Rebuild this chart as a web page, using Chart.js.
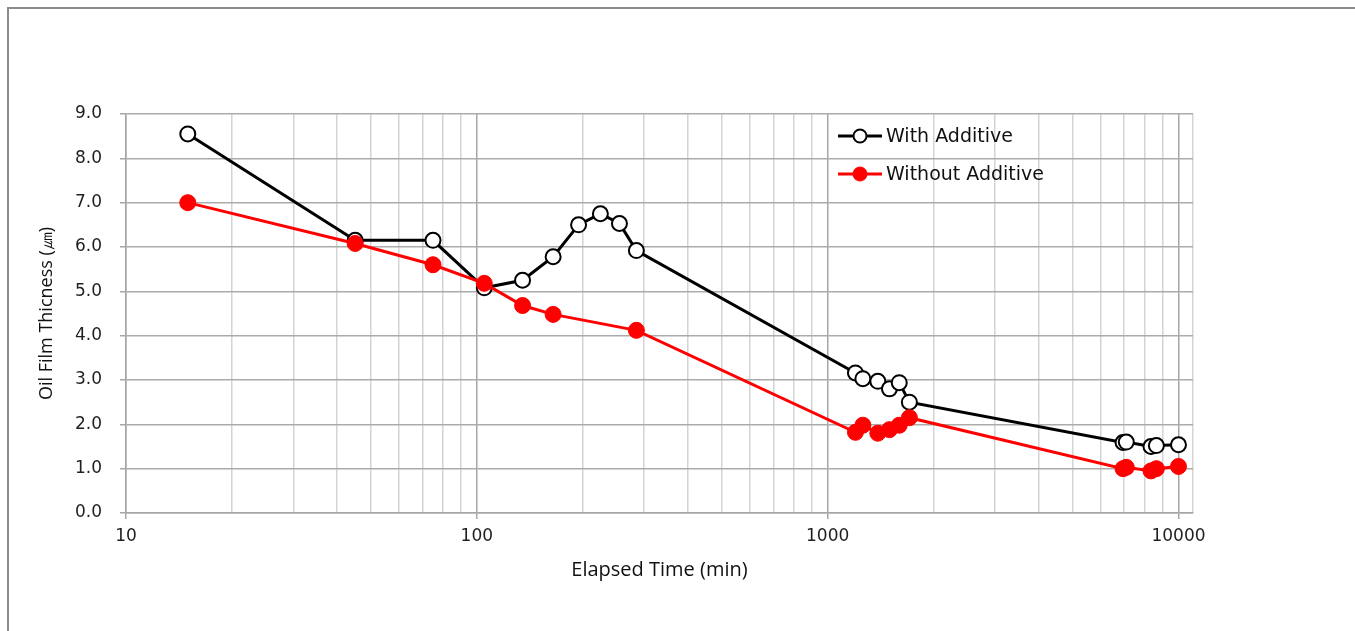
<!DOCTYPE html>
<html>
<head>
<meta charset="utf-8">
<script src="https://cdn.jsdelivr.net/npm/chart.js@4.4.1/dist/chart.umd.min.js"></script>
<style>
  html, body { margin: 0; padding: 0; background: #ffffff; }
  #wrap { width: 1355px; height: 631px; position: relative; }
</style>
</head>
<body>
<div id="wrap"><canvas id="c"></canvas></div>
<script>
// ---- data ----
const seriesNames = ["With Additive", "Without Additive"];
const timeWith = [15, 45, 75, 105, 135, 165, 195, 225, 255, 285, 1200, 1260, 1390, 1500, 1600, 1710, 6950, 7100, 8350, 8650, 10000];
const thickWith = [8.55, 6.15, 6.15, 5.08, 5.25, 5.78, 6.5, 6.75, 6.53, 5.92, 3.16, 3.03, 2.97, 2.8, 2.94, 2.5, 1.59, 1.6, 1.5, 1.52, 1.54];
const timeWithout = [15, 45, 75, 105, 135, 165, 285, 1200, 1260, 1390, 1500, 1600, 1710, 6950, 7100, 8350, 8650, 10000];
const thickWithout = [7.0, 6.08, 5.6, 5.18, 4.68, 4.48, 4.12, 1.82, 1.98, 1.8, 1.88, 1.98, 2.15, 1.0, 1.03, 0.95, 1.0, 1.05];
const xMajorTicks = [10, 100, 1000, 10000];
const xMinorMultipliers = [2, 3, 4, 5, 6, 7, 8, 9];
const xMin = 10, xMax = 11000;
const yMin = 0, yMax = 9, yStep = 1;
const xTitle = "Elapsed Time (min)";
const yTitle = "Oil Film Thicness (\u339B)";

const toPts = (xs, ys) => xs.map((x, i) => ({ x: x, y: ys[i] }));

const xTickValues = [];
xMajorTicks.forEach(m => {
  xTickValues.push(m);
  if (m < 10000) xMinorMultipliers.forEach(k => xTickValues.push(m * k));
});
xTickValues.push(xMax);

const framePlugin = {
  id: 'frame',
  beforeDraw(chart) {
    const ctx = chart.ctx;
    ctx.save();
    ctx.fillStyle = '#ffffff';
    ctx.fillRect(0, 0, chart.width, chart.height);
    ctx.strokeStyle = '#8c8c8c';
    ctx.lineWidth = 2;
    ctx.beginPath();
    ctx.moveTo(8, chart.height + 2);
    ctx.lineTo(8, 8);
    ctx.lineTo(chart.width + 2, 8);
    ctx.stroke();
    ctx.restore();
  }
};

const legendPlugin = {
  id: 'customLegend',
  afterDraw(chart) {
    const ctx = chart.ctx;
    const rows = [136, 174];
    ctx.save();
    chart.data.datasets.forEach((ds, i) => {
      const y = rows[i];
      ctx.strokeStyle = ds.borderColor;
      ctx.lineWidth = 3;
      ctx.beginPath();
      ctx.moveTo(838, y);
      ctx.lineTo(882, y);
      ctx.stroke();
      ctx.beginPath();
      ctx.arc(860, y, ds.pointRadius - 1, 0, Math.PI * 2);
      ctx.fillStyle = ds.pointBackgroundColor;
      ctx.fill();
      ctx.lineWidth = ds.pointBorderWidth;
      ctx.strokeStyle = ds.pointBorderColor;
      ctx.stroke();
      ctx.fillStyle = '#111111';
      ctx.font = '19px "DejaVu Sans"';
      ctx.textBaseline = 'middle';
      ctx.textAlign = 'left';
      ctx.fillText(ds.label, 886, y + 1);
    });
    ctx.restore();
  }
};

new Chart(document.getElementById('c'), {
  type: 'line',
  data: {
    datasets: [
      {
        label: seriesNames[0],
        data: toPts(timeWith, thickWith),
        borderColor: '#000000',
        borderWidth: 3,
        pointRadius: 7.5,
        pointBackgroundColor: '#ffffff',
        pointBorderColor: '#000000',
        pointBorderWidth: 2,
        tension: 0,
        order: 1
      },
      {
        label: seriesNames[1],
        data: toPts(timeWithout, thickWithout),
        borderColor: '#ff0000',
        borderWidth: 3,
        pointRadius: 8,
        pointBackgroundColor: '#ff0000',
        pointBorderColor: '#ff0000',
        pointBorderWidth: 1,
        tension: 0,
        order: 0
      }
    ]
  },
  options: {
    responsive: true,
    maintainAspectRatio: false,
    animation: false,
    devicePixelRatio: 1,
    events: [],
    layout: { padding: { left: 30, top: 114, right: 162, bottom: 48 } },
    plugins: { legend: { display: false }, tooltip: { enabled: false } },
    scales: {
      x: {
        type: 'logarithmic',
        min: xMin,
        max: xMax,
        afterBuildTicks(scale) {
          scale.ticks = xTickValues.map(v => ({ value: v, major: xMajorTicks.includes(v) }));
        },
        afterFit(scale) { scale.height = 70; },
        ticks: {
          autoSkip: false,
          maxRotation: 0,
          minRotation: 0,
          padding: 7,
          color: '#1f1f1f',
          font: { family: 'DejaVu Sans', size: 17 },
          callback(value) { return xMajorTicks.includes(value) ? String(value) : ''; }
        },
        grid: {
          color(ctx) {
            const v = ctx.tick && ctx.tick.value;
            return xMajorTicks.includes(v) ? '#a6a6a6' : '#d4d4d4';
          },
          lineWidth: 1.5,
          tickLength: 6,
          tickColor(ctx) {
            const v = ctx.tick && ctx.tick.value;
            return xMajorTicks.includes(v) ? '#a6a6a6' : 'rgba(0,0,0,0)';
          }
        },
        border: { color: '#a6a6a6', width: 1.5 },
        title: {
          display: true,
          text: xTitle,
          color: '#111111',
          font: { family: 'Open Sans', size: 20 },
          padding: { top: 0, bottom: 1 }
        }
      },
      y: {
        type: 'linear',
        min: yMin,
        max: yMax,
        afterFit(scale) { scale.width = 96; },
        ticks: {
          stepSize: yStep,
          padding: 18,
          color: '#1f1f1f',
          font: { family: 'DejaVu Sans', size: 17 },
          callback(value) { return Number(value).toFixed(1); }
        },
        grid: { color: '#ababab', lineWidth: 1.5, tickLength: 6, tickColor: '#a6a6a6' },
        border: { color: '#a6a6a6', width: 1.5 },
        title: {
          display: true,
          text: yTitle,
          color: '#111111',
          font: { family: 'Open Sans', size: 18 },
          padding: { top: 6, bottom: 0 }
        }
      }
    }
  },
  plugins: [framePlugin, legendPlugin]
});
</script>
</body>
</html>
